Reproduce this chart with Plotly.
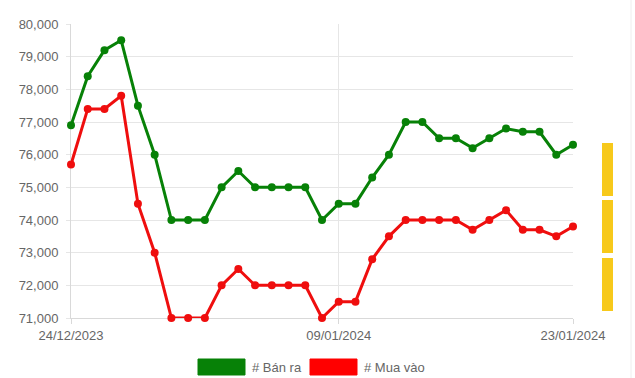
import plotly.graph_objects as go
import pandas as pd

dates = pd.date_range("2023-12-24", "2024-01-23", freq="D")
ban_ra = [76.9, 78.4, 79.2, 79.5, 77.5, 76.0, 74.0, 74.0, 74.0, 75.0, 75.5,
          75.0, 75.0, 75.0, 75.0, 74.0, 74.5, 74.5, 75.3, 76.0, 77.0, 77.0,
          76.5, 76.5, 76.2, 76.5, 76.8, 76.7, 76.7, 76.0, 76.3]
mua_vao = [75.7, 77.4, 77.4, 77.8, 74.5, 73.0, 71.0, 71.0, 71.0, 72.0, 72.5,
           72.0, 72.0, 72.0, 72.0, 71.0, 71.5, 71.5, 72.8, 73.5, 74.0, 74.0,
           74.0, 74.0, 73.7, 74.0, 74.3, 73.7, 73.7, 73.5, 73.8]
ban_ra = [v * 1000 for v in ban_ra]
mua_vao = [v * 1000 for v in mua_vao]
x_ticks = ["2023-12-24", "2024-01-09", "2024-01-23"]
x_tick_text = ["24/12/2023", "09/01/2024", "23/01/2024"]
y_ticks = list(range(71000, 80001, 1000))

GREEN = "#078107"
RED = "#ef0e0e"
FONT = "Liberation Sans, Arial, sans-serif"

fig = go.Figure()
fig.add_trace(go.Scatter(x=dates, y=mua_vao, mode="lines+markers", name="# Mua vào",
                         cliponaxis=False,
                         line=dict(color=RED, width=3), marker=dict(color=RED, size=8)))
fig.add_trace(go.Scatter(x=dates, y=ban_ra, mode="lines+markers", name="# Bán ra",
                         cliponaxis=False,
                         line=dict(color=GREEN, width=3), marker=dict(color=GREEN, size=8)))

fig.update_layout(
    width=635, height=378,
    margin=dict(l=71, r=62, t=24, b=60),
    paper_bgcolor="white", plot_bgcolor="white",
    showlegend=False,
    font=dict(family=FONT, size=13, color="#666666"),
    xaxis=dict(type="date", range=[x_ticks[0], x_ticks[-1]], tickvals=x_ticks,
               ticktext=x_tick_text, showgrid=True, gridcolor="#e6e6e6", gridwidth=1,
               showline=True, linecolor="#d9d9d9", linewidth=1,
               ticks="outside", ticklen=5, tickcolor="#d9d9d9",
               layer="below traces",
               zeroline=False, tickfont=dict(size=13, color="#666666")),
    yaxis=dict(range=[71000, 80000], tickvals=y_ticks, tickformat=",",
               showgrid=True, gridcolor="#e6e6e6", gridwidth=1,
               showline=True, linecolor="#d9d9d9", linewidth=1,
               ticks="outside", ticklen=4, tickcolor="#e6e6e6",
               ticklabelstandoff=5, layer="below traces",
               zeroline=False, tickfont=dict(size=13, color="#666666")),
)

# legend drawn as wide colour boxes with labels below the plot
shapes = [
    dict(type="rect", xref="paper", yref="paper",
         x0=(198 - 71) / 502, x1=(245 - 71) / 502,
         y0=(318 - 375) / 294, y1=(318 - 359) / 294,
         fillcolor=GREEN, line=dict(color=GREEN, width=1)),
    dict(type="rect", xref="paper", yref="paper",
         x0=(310 - 71) / 502, x1=(357 - 71) / 502,
         y0=(318 - 375) / 294, y1=(318 - 359) / 294,
         fillcolor="#ff0000", line=dict(color="#ff0000", width=1)),
]
# yellow side tabs at the right edge of the page
for top, bot in [(143, 196), (200, 253), (258, 311)]:
    shapes.append(dict(type="rect", xref="paper", yref="paper",
                       x0=(602 - 71) / 502, x1=(613 - 71) / 502,
                       y0=(318 - bot) / 294, y1=(318 - top) / 294,
                       fillcolor="#f7c91b", line=dict(width=0)))
shapes.append(dict(type="line", xref="paper", yref="paper",
                   x0=(631 - 71) / 502, x1=(631 - 71) / 502,
                   y0=(318 - 378) / 294, y1=(318 - 0) / 294,
                   line=dict(color="#eeeeee", width=1)))
fig.update_layout(shapes=shapes)

fig.add_annotation(xref="paper", yref="paper", x=(250 - 71) / 502, y=(318 - 367) / 294,
                   text="# Bán ra", showarrow=False, xanchor="left", yanchor="middle",
                   font=dict(family=FONT, size=13, color="#666666"))
fig.add_annotation(xref="paper", yref="paper", x=(362 - 71) / 502, y=(318 - 367) / 294,
                   text="# Mua vào", showarrow=False, xanchor="left", yanchor="middle",
                   font=dict(family=FONT, size=13, color="#666666"))

fig.write_html("out.html")
